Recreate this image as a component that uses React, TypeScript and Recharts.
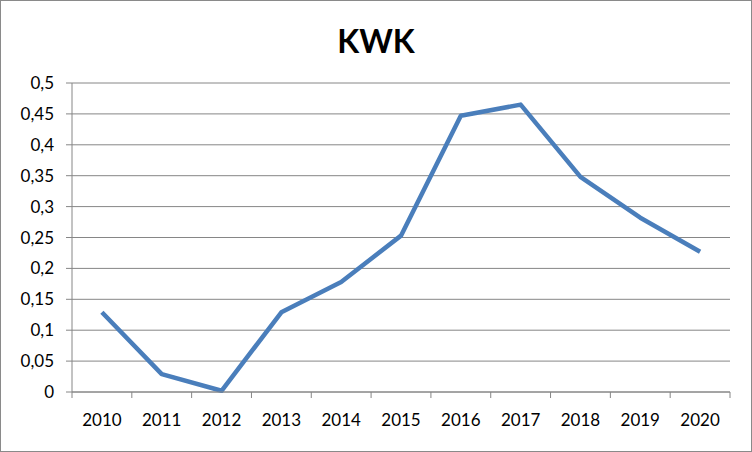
import React from "react";
import { LineChart, Line, XAxis, YAxis, CartesianGrid } from "recharts";

const years = ["2010", "2011", "2012", "2013", "2014", "2015", "2016", "2017", "2018", "2019", "2020"];
const kwk = [0.129, 0.029, 0.002, 0.129, 0.178, 0.253, 0.447, 0.465, 0.348, 0.282, 0.227];
const yTicks = [0, 0.05, 0.1, 0.15, 0.2, 0.25, 0.3, 0.35, 0.4, 0.45, 0.5];

const data = years.map((y, i) => ({ idx: i, year: y, value: kwk[i] }));
const xTicks: number[] = [];
for (let i = 0; i <= years.length * 2; i++) xTicks.push(-0.5 + i * 0.5);

const FONT = "Lato, Carlito, Calibri, sans-serif";

const XTick = (props: any) => {
  const { x, y, payload } = props;
  const v = payload.value as number;
  if (Number.isInteger(v)) {
    return (
      <text x={x} y={y + 22} textAnchor="middle" fontFamily={FONT} fontSize={17} fill="#000" dominantBaseline="middle">
        {years[v]}
      </text>
    );
  }
  return <line x1={x} x2={x} y1={y - 8} y2={y - 2} stroke="#868686" strokeWidth={1} />;
};

export default function App() {
  return (
    <div
      style={{
        position: "absolute",
        left: 0,
        top: 0,
        width: 752,
        height: 452,
        background: "#fff",
        boxSizing: "border-box",
        border: "1px solid #8a8a8a",
      }}
    >
      <div
        style={{
          position: "absolute",
          left: 0,
          width: 750,
          top: 20,
          textAlign: "center",
          fontFamily: FONT,
          fontWeight: 700,
          fontSize: 32,
          lineHeight: "40px",
          color: "#000",
        }}
      >
        KWK
      </div>
      <div style={{ position: "absolute", left: -1, top: -1 }}>
        <LineChart width={752} height={452} data={data} margin={{ top: 83, right: 22, bottom: 0, left: 0 }}>
          <CartesianGrid vertical={false} stroke="#868686" strokeWidth={1} />
          <XAxis
            dataKey="idx"
            type="number"
            domain={[-0.5, 10.5]}
            ticks={xTicks}
            interval={0}
            height={60}
            tickLine={false}
            axisLine={{ stroke: "#868686" }}
            tick={<XTick />}
          />
          <YAxis
            type="number"
            domain={[0, 0.5]}
            ticks={yTicks}
            interval={0}
            width={72}
            tickSize={6}
            tickMargin={12}
            axisLine={{ stroke: "#868686" }}
            tickLine={{ stroke: "#868686" }}
            tick={{ fontFamily: FONT, fontSize: 17, fill: "#000" }}
            tickFormatter={(v: number) => String(v).replace(".", ",")}
          />
          <Line
            type="linear"
            dataKey="value"
            stroke="#4A7EBB"
            strokeWidth={4.5}
            dot={false}
            isAnimationActive={false}
            strokeLinejoin="round"
          />
        </LineChart>
      </div>
    </div>
  );
}
